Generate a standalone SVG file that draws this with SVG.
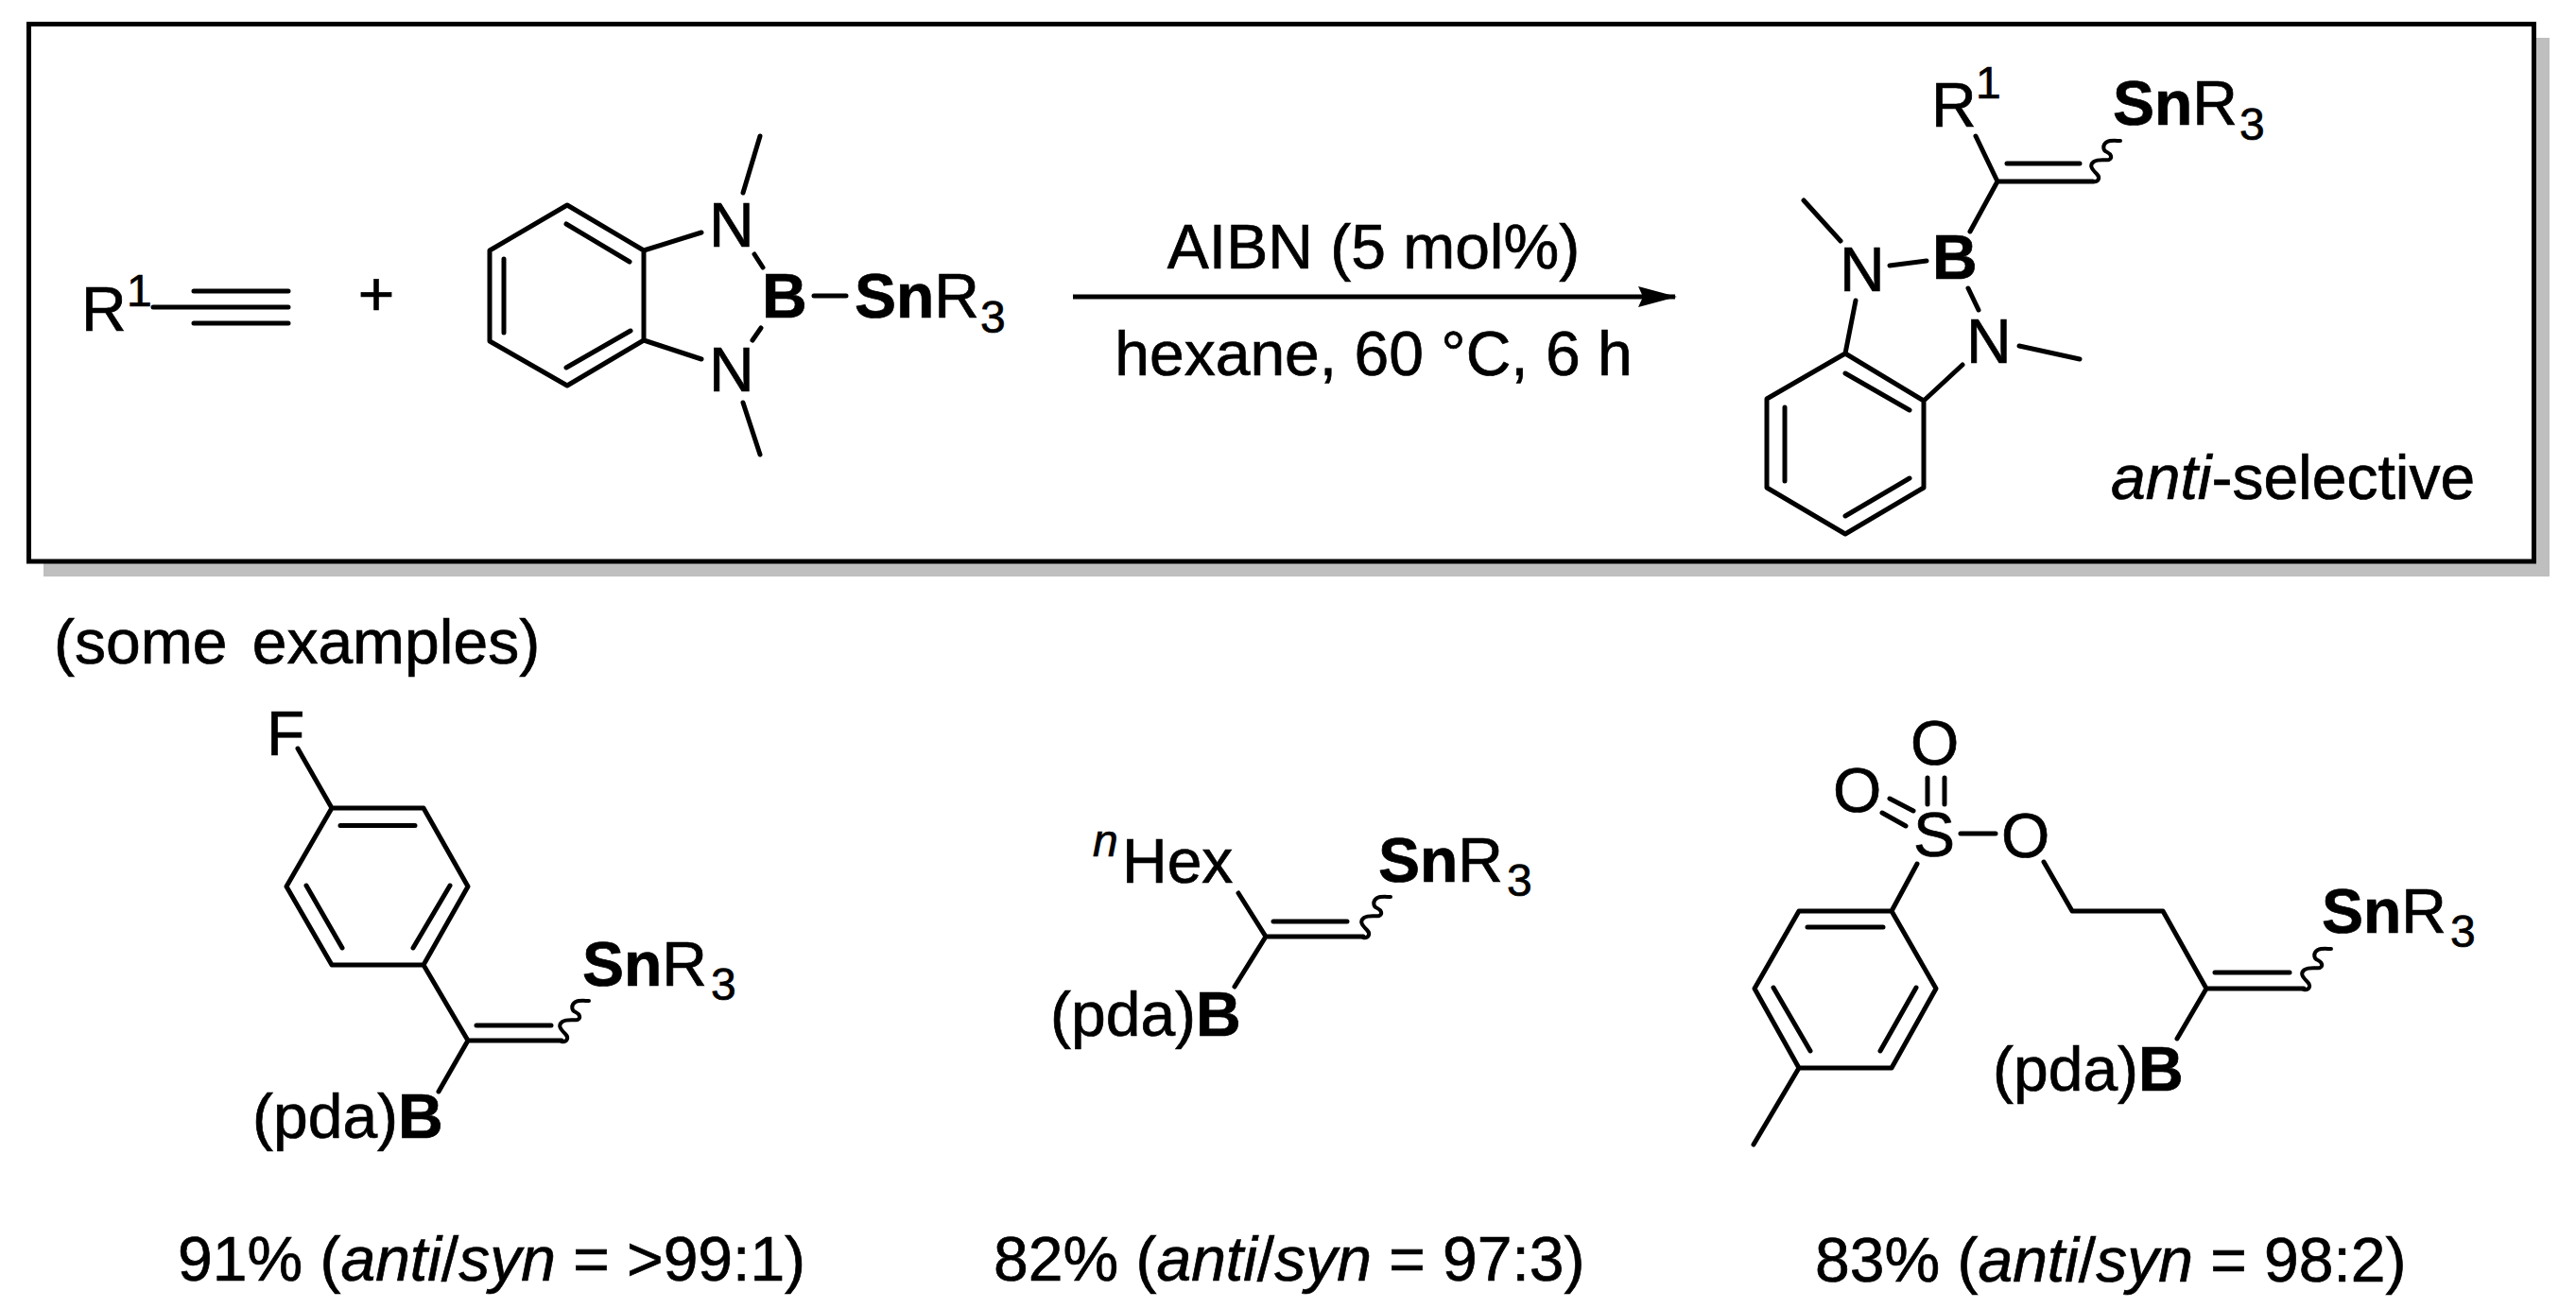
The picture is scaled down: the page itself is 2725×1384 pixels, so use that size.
<svg xmlns="http://www.w3.org/2000/svg" xmlns:xlink="http://www.w3.org/1999/xlink" width="2725" height="1384" viewBox="0 0 2725 1384">
<style>
text{font-family:"Liberation Sans",Arial,sans-serif;font-size:66px;fill:#000;stroke:#000;stroke-width:.7}
.b{font-weight:bold}.i{font-style:italic}.s{font-size:48px}
.bond{fill:none;stroke:#000;stroke-width:5;stroke-linecap:round;stroke-linejoin:round}
.wave{fill:none;stroke:#000;stroke-width:4;stroke-linecap:round}
</style>
<defs>
<path id="wavy" class="wave" d="M0 0C6 1 8-4 4-8C0-12-5-17 1-21C6-24 13-22 17-23C21-25 19-29 15-31C10-33 10-39 15-42C19-44 25-43 29-43"/>
<marker id="head" markerUnits="userSpaceOnUse" markerWidth="42" markerHeight="24" refX="41" refY="11" orient="auto"><path d="M0 0L41 11L0 22L5 11Z" fill="#000"/></marker>
</defs>
<rect width="2725" height="1384" fill="#fff"/>
<g id="frame">
<rect x="46" y="40" width="2651" height="570" fill="#bfbfbf"/>
<rect x="30.500" y="25.500" width="2650" height="568.500" fill="#fff" stroke="#000" stroke-width="5"/>
</g>
<g id="alkyne">
<path class="bond" d="M162 325H305M205 308H305M205 342H305"/>
<text x="86" y="350">R</text><text class="s" x="134" y="324">1</text>
</g>
<text id="plus" x="398" y="334" text-anchor="middle">+</text>
<g id="borylstannane">
<path class="bond" d="M600 217L681 265V360L600 408L518 361V265ZM599 237L666 277M533 274V352M599 389L667 350M681 265L742 246M681 360L742 380M798 269L807 283M805 347L796 360M861 313H895M786 204L804 144M786 426L804 481"/>
<text x="750" y="261">N</text><text x="750" y="414">N</text>
<text class="b" x="806" y="336">B</text>
<text x="904" y="336"><tspan class="b">Sn</tspan>R</text><text class="s" x="1037" y="352">3</text>
</g>
<g id="connectors">
<path d="M1135 314H1772" stroke="#000" stroke-width="5" fill="none"/>
<path d="M1733 303L1774 314L1733 325L1738 314Z" fill="#000"/>
</g>
<g id="conditions">
<text x="1453" y="284" text-anchor="middle">AIBN (5 mol%)</text>
<text x="1453" y="397" text-anchor="middle">hexane, 60 °C, 6 h</text>
</g>
<g id="product">
<path class="bond" d="M2090 144L2113 192L2084 245M2113 192H2214M2123 173H2200M1999 281L2038 276M1908 212L1947 255M2082 305L2093 328M2136 366L2200 380M1963 318L1952 374L2035 424V516L1952 565L1869 516V422L1952 374M2076 386L2035 424M1952 395L2020 434M1888 431V509M1952 546L2020 506"/>
<use xlink:href="#wavy" href="#wavy" x="2214" y="192"/>
<text x="2043" y="134">R</text><text class="s" x="2090" y="104">1</text>
<text x="2235" y="132"><tspan class="b">Sn</tspan>R</text><text class="s" x="2369" y="148">3</text>
<text x="1946" y="308">N</text><text class="b" x="2044" y="295">B</text><text x="2080" y="384">N</text>
<text x="2233" y="528"><tspan class="i">anti</tspan>-selective</text>
</g>
<text id="examples-label" x="57" y="702" word-spacing="8">(some examples)</text>
<g id="example-1">
<path class="bond" d="M315 792L351 855H448L495 938L448 1021H351L303 938L351 855M360 873.500H439M324 937L362 1003M476 937L437 1003M448 1021L495 1101H594M504 1085H583M495 1101L464 1155"/>
<use xlink:href="#wavy" href="#wavy" x="594" y="1102"/>
<text x="282" y="799">F</text>
<text x="616" y="1043"><tspan class="b">Sn</tspan>R</text><text class="s" x="752" y="1058">3</text>
<text x="267" y="1204">(pda)<tspan class="b">B</tspan></text>
<text x="188" y="1355">91% (<tspan class="i">anti</tspan>/<tspan class="i">syn</tspan> = &gt;99:1)</text>
</g>
<g id="example-2">
<path class="bond" d="M1310 945L1339 991H1442M1347 975H1425M1339 991L1306 1044"/>
<use xlink:href="#wavy" href="#wavy" x="1442" y="992"/>
<text class="s i" x="1156" y="906">n</text><text x="1187" y="934">Hex</text>
<text x="1458" y="933"><tspan class="b">Sn</tspan>R</text><text class="s" x="1594" y="948">3</text>
<text x="1111" y="1096">(pda)<tspan class="b">B</tspan></text>
<text x="1051" y="1355">82% (<tspan class="i">anti</tspan>/<tspan class="i">syn</tspan> = 97:3)</text>
</g>
<g id="example-3">
<path class="bond" d="M2039 823V851M2057 823V851M1999 845L2024 858M1991 860L2016 874M2074 882H2111M2028 914L2001 964H1903L1856 1046L1903 1130H2001L2048 1046L2001 964M1912 981H1992M1876 1045L1915 1112M2027 1045L1989 1112M1903 1130L1855 1211M2162 912L2192 964H2288L2334 1046H2437M2343 1029H2422M2334 1046L2303 1099"/>
<use xlink:href="#wavy" href="#wavy" x="2437" y="1047"/>
<text x="2021" y="809">O</text><text x="1939" y="859">O</text><text x="2024" y="906">S</text><text x="2117" y="907">O</text>
<text x="2456" y="987"><tspan class="b">Sn</tspan>R</text><text class="s" x="2592" y="1002">3</text>
<text x="2108" y="1154">(pda)<tspan class="b">B</tspan></text>
<text x="1920" y="1356">83% (<tspan class="i">anti</tspan>/<tspan class="i">syn</tspan> = 98:2)</text>
</g>
</svg>
